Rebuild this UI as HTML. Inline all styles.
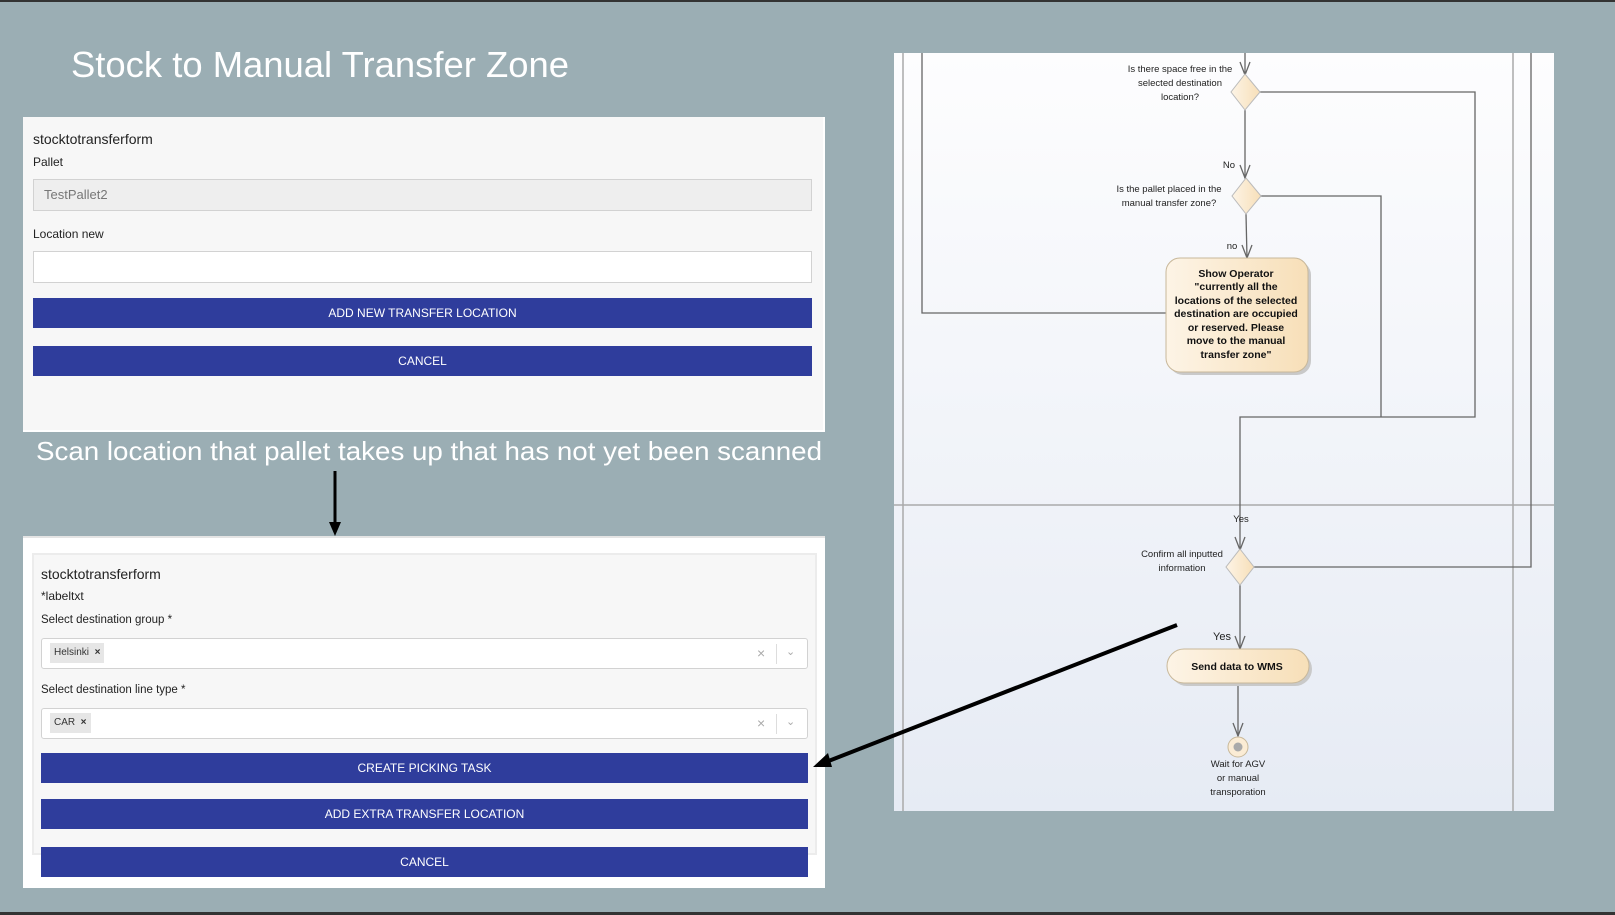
<!DOCTYPE html>
<html><head><meta charset="utf-8"><style>
*{margin:0;padding:0;box-sizing:border-box}
body{width:1615px;height:915px;background:#9baeb4;position:relative;overflow:hidden;font-family:"Liberation Sans",sans-serif}
.abs{position:absolute}
.panel{background:#fff}
.inner{background:#f7f7f7}
.t{position:absolute;color:#222;font-size:13px;white-space:nowrap}
.btn{position:absolute;background:#2f3d9c;color:#fff;font-size:12px;text-align:center}
.inp{position:absolute;border:1px solid #d2d2d2;background:#fff}
.chip{position:absolute;background:#e6e6e6;font-size:10px;color:#333;padding:0 4px;height:20px;line-height:20px}
</style></head><body>
<div class="abs" style="left:0;top:0;width:1615px;height:2px;background:#333"></div>
<div class="abs" style="left:0;top:912px;width:1615px;height:3px;background:#333"></div>

<!-- top form -->
<div class="abs panel" style="left:23px;top:117px;width:802px;height:315px;background:#f7f7f7;border-right:2px solid #fff;border-bottom:2px solid #fff"></div>
<div class="t" style="left:33px;top:131px;font-size:14px">stocktotransferform</div>
<div class="t" style="left:33px;top:155px;font-size:12px">Pallet</div>
<div class="inp" style="left:33px;top:179px;width:779px;height:32px;background:#eee"></div>
<div class="t" style="left:44px;top:187px;font-size:13px;color:#777">TestPallet2</div>
<div class="t" style="left:33px;top:227px;font-size:12px">Location new</div>
<div class="inp" style="left:33px;top:251px;width:779px;height:32px"></div>
<div class="btn" style="left:33px;top:298px;width:779px;height:30px;line-height:30px">ADD NEW TRANSFER LOCATION</div>
<div class="btn" style="left:33px;top:346px;width:779px;height:30px;line-height:30px">CANCEL</div>

<!-- bottom form -->
<div class="abs panel" style="left:23px;top:536px;width:802px;height:352px;border-top:2px solid #e4e4e4"></div>
<div class="abs inner" style="left:32px;top:553px;width:785px;height:302px;border:2px solid #ececec"></div>
<div class="t" style="left:41px;top:566px;font-size:14px">stocktotransferform</div>
<div class="t" style="left:41px;top:589px;font-size:12px">*labeltxt</div>
<div class="t" style="left:41px;top:614px;font-size:11.5px">Select destination group *</div>
<div class="inp" style="left:41px;top:638px;width:767px;height:31px;border-radius:3px"></div>
<div class="chip" style="left:50px;top:643px">Helsinki &nbsp;<b>×</b></div>
<div class="t" style="left:757px;top:645px;color:#aaa;font-size:14px">×</div>
<div class="abs" style="left:776px;top:644px;width:1px;height:20px;background:#ddd"></div>
<div class="t" style="left:786px;top:645px;color:#aaa;font-size:11px">⌄</div>
<div class="t" style="left:41px;top:684px;font-size:11.5px">Select destination line type *</div>
<div class="inp" style="left:41px;top:708px;width:767px;height:31px;border-radius:3px"></div>
<div class="chip" style="left:50px;top:713px">CAR &nbsp;<b>×</b></div>
<div class="t" style="left:757px;top:715px;color:#aaa;font-size:14px">×</div>
<div class="abs" style="left:776px;top:714px;width:1px;height:20px;background:#ddd"></div>
<div class="t" style="left:786px;top:715px;color:#aaa;font-size:11px">⌄</div>
<div class="btn" style="left:41px;top:753px;width:767px;height:30px;line-height:30px">CREATE PICKING TASK</div>
<div class="btn" style="left:41px;top:799px;width:767px;height:30px;line-height:30px">ADD EXTRA TRANSFER LOCATION</div>
<div class="btn" style="left:41px;top:847px;width:767px;height:30px;line-height:30px">CANCEL</div>

<svg class="abs" style="left:0;top:0" width="1615" height="915" xmlns="http://www.w3.org/2000/svg">
<defs>
<linearGradient id="bg" x1="0" y1="0" x2="0" y2="1"><stop offset="0" stop-color="#fdfdfe"/><stop offset="1" stop-color="#e6ebf4"/></linearGradient>
<linearGradient id="nd" x1="0" y1="0" x2="1" y2="0"><stop offset="0" stop-color="#fdf4e6"/><stop offset="1" stop-color="#f7dfb8"/></linearGradient>
</defs>
<text x="71" y="77" font-family="Liberation Sans" font-size="36" fill="#fff" textLength="498" lengthAdjust="spacingAndGlyphs">Stock to Manual Transfer Zone</text>
<text x="36" y="460" font-family="Liberation Sans" font-size="26" fill="#fff" textLength="786" lengthAdjust="spacingAndGlyphs">Scan location that pallet takes up that has not yet been scanned</text>
<line x1="335" y1="471" x2="335" y2="524" stroke="#000" stroke-width="3"/>
<polygon points="329,522 341,522 335,536" fill="#000"/>

<!-- diagram panel -->
<rect x="894" y="53" width="660" height="758" fill="url(#bg)"/>
<g stroke="#aaa" stroke-width="1.5" fill="none">
<line x1="903" y1="53" x2="903" y2="811"/>
<line x1="1513" y1="53" x2="1513" y2="811"/>
<line x1="894" y1="505" x2="1554" y2="505"/>
</g>
<g stroke="#666" stroke-width="1.3" fill="none">
<line x1="1245" y1="53" x2="1245" y2="75"/><polyline points="1240,62 1245,75 1250,62"/>
<polyline points="1260,92 1475,92 1475,417 1240,417 1240,550"/>
<polyline points="1235,537 1240,550 1245,537"/>
<line x1="1245" y1="110" x2="1245" y2="178"/><polyline points="1240,165 1245,178 1250,165"/>
<polyline points="1260,196 1381,196 1381,417"/>
<line x1="1246" y1="214" x2="1247" y2="258"/><polyline points="1242,245 1247,258 1252,245"/>
<polyline points="1166,313 922,313 922,53"/>
<polyline points="1254,567 1531,567 1531,53"/>
<line x1="1240" y1="585" x2="1240" y2="649"/><polyline points="1235,636 1240,649 1245,636"/>
<line x1="1238" y1="683" x2="1238" y2="736"/><polyline points="1233,723 1238,736 1243,723"/>
</g>
<g stroke="#bbb" stroke-width="1" fill="url(#nd)">
<polygon points="1245,74 1260,92 1245,110 1231,92"/>
<polygon points="1246,178 1261,196 1246,214 1232,196"/>
<polygon points="1240,549 1254,567 1240,585 1226,567"/>
</g>
<rect x="1169" y="261" width="142" height="114" rx="14" fill="#c9c9c9"/>
<rect x="1166" y="258" width="142" height="114" rx="14" fill="url(#nd)" stroke="#c8b89a"/>
<rect x="1170" y="652" width="142" height="34" rx="17" fill="#c9c9c9"/>
<rect x="1167" y="649" width="142" height="34" rx="17" fill="url(#nd)" stroke="#c8b89a"/>
<circle cx="1238" cy="747" r="10" fill="#fbecd5" stroke="#c8b89a"/>
<circle cx="1238" cy="747" r="4.5" fill="#aaa"/>
<g font-family="Liberation Sans" font-size="9.5" fill="#222" text-anchor="middle">
<text x="1180" y="72">Is there space free in the</text>
<text x="1180" y="86">selected destination</text>
<text x="1180" y="100">location?</text>
<text x="1229" y="168">No</text>
<text x="1169" y="192">Is the pallet placed in the</text>
<text x="1169" y="206">manual transfer zone?</text>
<text x="1232" y="249">no</text>
<text x="1241" y="522">Yes</text>
<text x="1182" y="557">Confirm all inputted</text>
<text x="1182" y="571">information</text>
<text x="1222" y="640" font-size="11">Yes</text>
<text x="1238" y="767">Wait for AGV</text>
<text x="1238" y="781">or manual</text>
<text x="1238" y="795">transporation</text>
</g>
<g font-family="Liberation Sans" font-size="10.5" font-weight="bold" fill="#111" text-anchor="middle">
<text x="1236" y="277">Show Operator</text>
<text x="1236" y="290">"currently all the</text>
<text x="1236" y="304">locations of the selected</text>
<text x="1236" y="317">destination are occupied</text>
<text x="1236" y="331">or reserved. Please</text>
<text x="1236" y="344">move to the manual</text>
<text x="1236" y="358">transfer zone"</text>
<text x="1237" y="670">Send data to WMS</text>
</g>
<line x1="1177" y1="625" x2="826" y2="762" stroke="#000" stroke-width="4"/>
<polygon points="813,767 828,753 832,767" fill="#000"/>
</svg>
</body></html>
